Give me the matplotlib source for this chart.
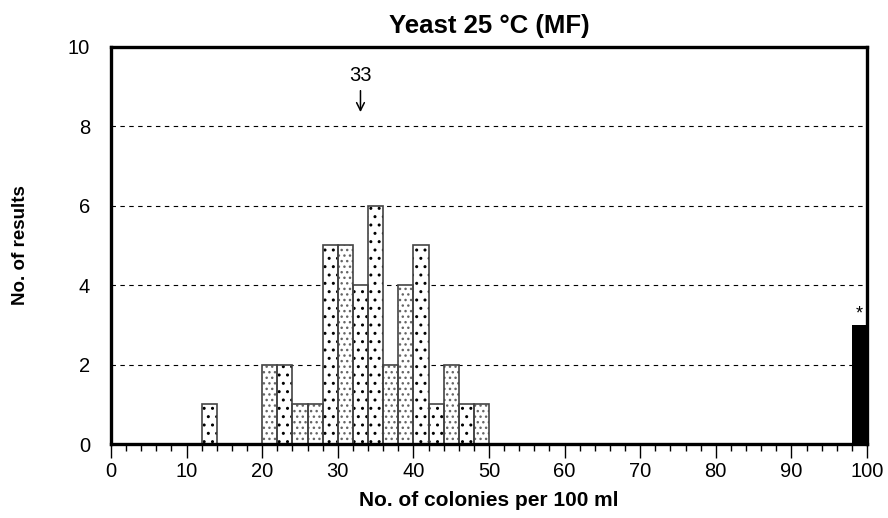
import matplotlib
matplotlib.use('Agg')
import matplotlib.pyplot as plt
import numpy as np

# Histogram of results: bin start (colonies per 100 ml), count, pattern
BIN_STARTS = [12, 20, 22, 24, 26, 28, 30, 32, 34, 36, 38, 40, 42, 44, 46, 48]
COUNTS = [1, 2, 2, 1, 1, 5, 5, 4, 6, 2, 4, 5, 1, 2, 1, 1]
PATTERNS = ['sq', 'gr', 'sq', 'gr', 'gr', 'sq', 'gr', 'sq', 'sq', 'gr', 'gr', 'sq', 'sq', 'gr', 'sq', 'gr']

# results outside the range (shown as black bar with asterisk)
OUT_BIN = 98
OUT_COUNT = 3

BIN_WIDTH = 2
ASSIGNED_VALUE = 33

TITLE = 'Yeast 25 °C (MF)'
XLABEL = 'No. of colonies per 100 ml'
YLABEL = 'No. of results'

plt.rcParams['font.family'] = ['Liberation Sans', 'DejaVu Sans']


def draw_bars(ax):
    """Draw patterned histogram bars."""
    for start, count, pat in zip(BIN_STARTS, COUNTS, PATTERNS):
        if pat == 'sq':
            hatch, hcol = '..', 'black'
        else:
            hatch, hcol = '...', '#666666'
        # hatch layer
        ax.bar(start, count, width=BIN_WIDTH, align='edge', color='white',
               hatch=hatch, edgecolor=hcol, linewidth=0, zorder=3)
        # outline
        ax.bar(start, count, width=BIN_WIDTH, align='edge', fill=False,
               edgecolor='#444444', linewidth=1.2, zorder=4)

    ax.bar(OUT_BIN, OUT_COUNT, width=BIN_WIDTH, align='edge', color='black',
           edgecolor='black', linewidth=0, zorder=3)
    ax.text(OUT_BIN + BIN_WIDTH / 2, OUT_COUNT + 0.05, '*', ha='center',
            va='bottom', fontsize=13)


def customize(ax):
    ax.set_xlim(0, 100)
    ax.set_ylim(0, 10)
    ax.set_xticks(np.arange(0, 101, 10))
    ax.set_xticks(np.arange(0, 101, 2), minor=True)
    ax.set_yticks(np.arange(0, 11, 2))
    ax.tick_params(axis='x', which='major', length=10, width=1, labelsize=14.5, pad=3)
    ax.tick_params(axis='x', which='minor', length=5, width=1)
    ax.tick_params(axis='y', length=0, labelsize=14.5, pad=15)

    for side in ['left', 'right', 'top', 'bottom']:
        ax.spines[side].set_linewidth(2.4)
        ax.spines[side].set_zorder(6)

    for y in [2, 4, 6, 8]:
        ax.axhline(y, color='black', linestyle=(0, (4, 4)), linewidth=0.8, zorder=1)

    # assigned value marker
    ax.text(ASSIGNED_VALUE, 9.28, str(ASSIGNED_VALUE), ha='center', va='center', fontsize=14.5)
    ax.annotate('', xy=(ASSIGNED_VALUE, 8.36), xytext=(ASSIGNED_VALUE, 8.9),
                arrowprops=dict(arrowstyle='->', lw=1.1, color='black',
                                shrinkA=0, shrinkB=0, mutation_scale=14))

    ax.set_title(TITLE, fontsize=18.5, fontweight='bold', pad=10)
    ax.set_xlabel(XLABEL, fontsize=15, fontweight='bold', labelpad=7)
    ax.set_ylabel(YLABEL, fontsize=13.5, fontweight='bold', labelpad=28)


def main():
    fig = plt.figure(figsize=(8.88, 5.18), dpi=100)
    ax = fig.add_axes([111 / 888, 74 / 518, 756 / 888, 397 / 518])
    draw_bars(ax)
    customize(ax)
    fig.savefig('out.png', dpi=100)
    plt.close(fig)


if __name__ == '__main__':
    main()
